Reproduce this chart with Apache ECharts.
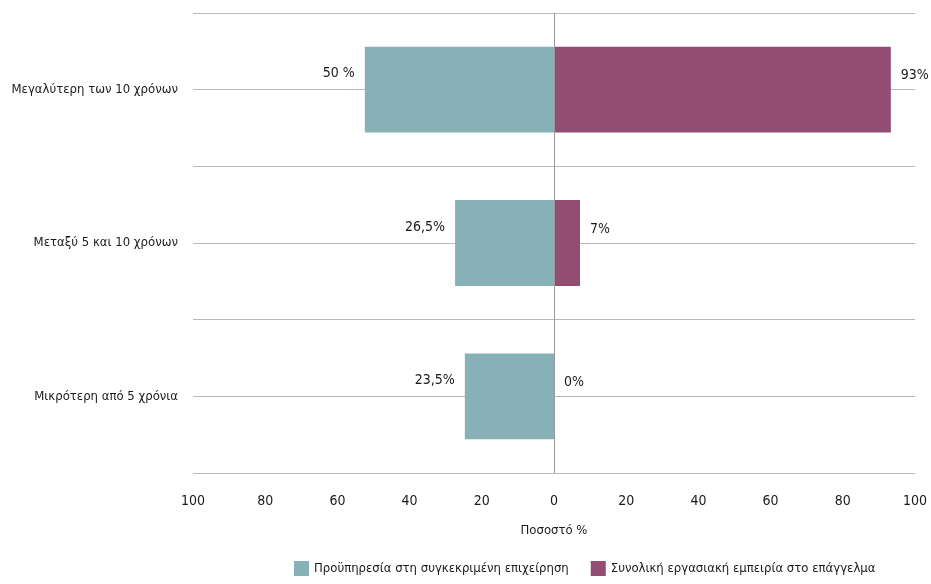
<!DOCTYPE html>
<html><head><meta charset="utf-8">
<script src="https://cdn.jsdelivr.net/npm/echarts@6/dist/echarts.min.js"></script>
<style>html,body{margin:0;padding:0;background:#fff}#c{width:931px;height:584px}</style>
</head><body><div id="c"></div>
<script>
const categories = ['Μεγαλύτερη των 10 χρόνων', 'Μεταξύ 5 και 10 χρόνων', 'Μικρότερη από 5 χρόνια'];
const seriesNames = ['Προϋπηρεσία στη συγκεκριμένη επιχείρηση', 'Συνολική εργασιακή εμπειρία στο επάγγελμα'];
const companyValues = [52.4, 27.4, 24.7];
const companyLabels = ['50 %', '26,5%', '23,5%'];
const totalValues = [93.3, 7.2, 0];
const totalLabels = ['93%', '7%', '0%'];
const xTicks = [-100, -80, -60, -40, -20, 0, 20, 40, 60, 80, 100];

const FONT = "'DejaVu Sans Condensed', 'Liberation Sans Narrow', sans-serif";
const chart = echarts.init(document.getElementById('c'));
chart.setOption({
  animation: false,
  textStyle: { fontFamily: FONT },
  grid: { left: 193, right: 16, top: 13, bottom: 111, outerBoundsMode: 'none', containLabel: false },
  legend: {
    bottom: 3, left: 289, itemWidth: 15, itemHeight: 15, itemGap: 22,
    icon: 'rect',
    textStyle: { fontFamily: FONT, fontSize: 13, color: '#1a1a1a' },
    data: seriesNames
  },
  xAxis: {
    type: 'value', min: xTicks[0], max: xTicks[xTicks.length - 1], interval: 20,
    axisLine: { show: false }, axisTick: { show: false }, splitLine: { show: false },
    axisLabel: { fontFamily: FONT, fontSize: 14, color: '#1a1a1a', margin: 21,
      formatter: v => String(Math.abs(v)) },
    name: 'Ποσοστό %', nameLocation: 'middle', nameGap: 51,
    nameTextStyle: { fontFamily: FONT, fontSize: 13, color: '#1a1a1a' }
  },
  yAxis: [
    { type: 'category', data: categories, inverse: true,
      axisLine: { show: false }, axisTick: { show: false }, splitLine: { show: false },
      axisLabel: { fontFamily: FONT, fontSize: 13, color: '#1a1a1a', margin: 15 } },
    { type: 'value', min: 0, max: 3, interval: 0.5, position: 'right',
      axisLine: { show: false }, axisTick: { show: false }, axisLabel: { show: false },
      splitLine: { show: true, lineStyle: { color: '#b8b8b8', width: 1 } } }
  ],
  series: [
    { name: seriesNames[0], type: 'bar', yAxisIndex: 0, barWidth: '56%', barGap: '-100%',
      itemStyle: { color: '#88b0b7' },
      data: companyValues.map(v => -v),
      label: { show: true, position: 'left', distance: 10, offset: [0, -16],
        fontFamily: FONT, fontSize: 14, color: '#1a1a1a',
        formatter: p => companyLabels[p.dataIndex] },
      markLine: { silent: true, symbol: 'none', label: { show: false },
        lineStyle: { color: '#999', type: 'solid', width: 1 },
        data: [{ xAxis: 0 }] }
    },
    { name: seriesNames[1], type: 'bar', yAxisIndex: 0, barWidth: '56%', barGap: '-100%',
      itemStyle: { color: '#934c72' },
      data: totalValues,
      label: { show: true, position: 'right', distance: 10, offset: [0, -14],
        fontFamily: FONT, fontSize: 14, color: '#1a1a1a',
        formatter: p => totalLabels[p.dataIndex] }
    }
  ]
});
</script></body></html>
